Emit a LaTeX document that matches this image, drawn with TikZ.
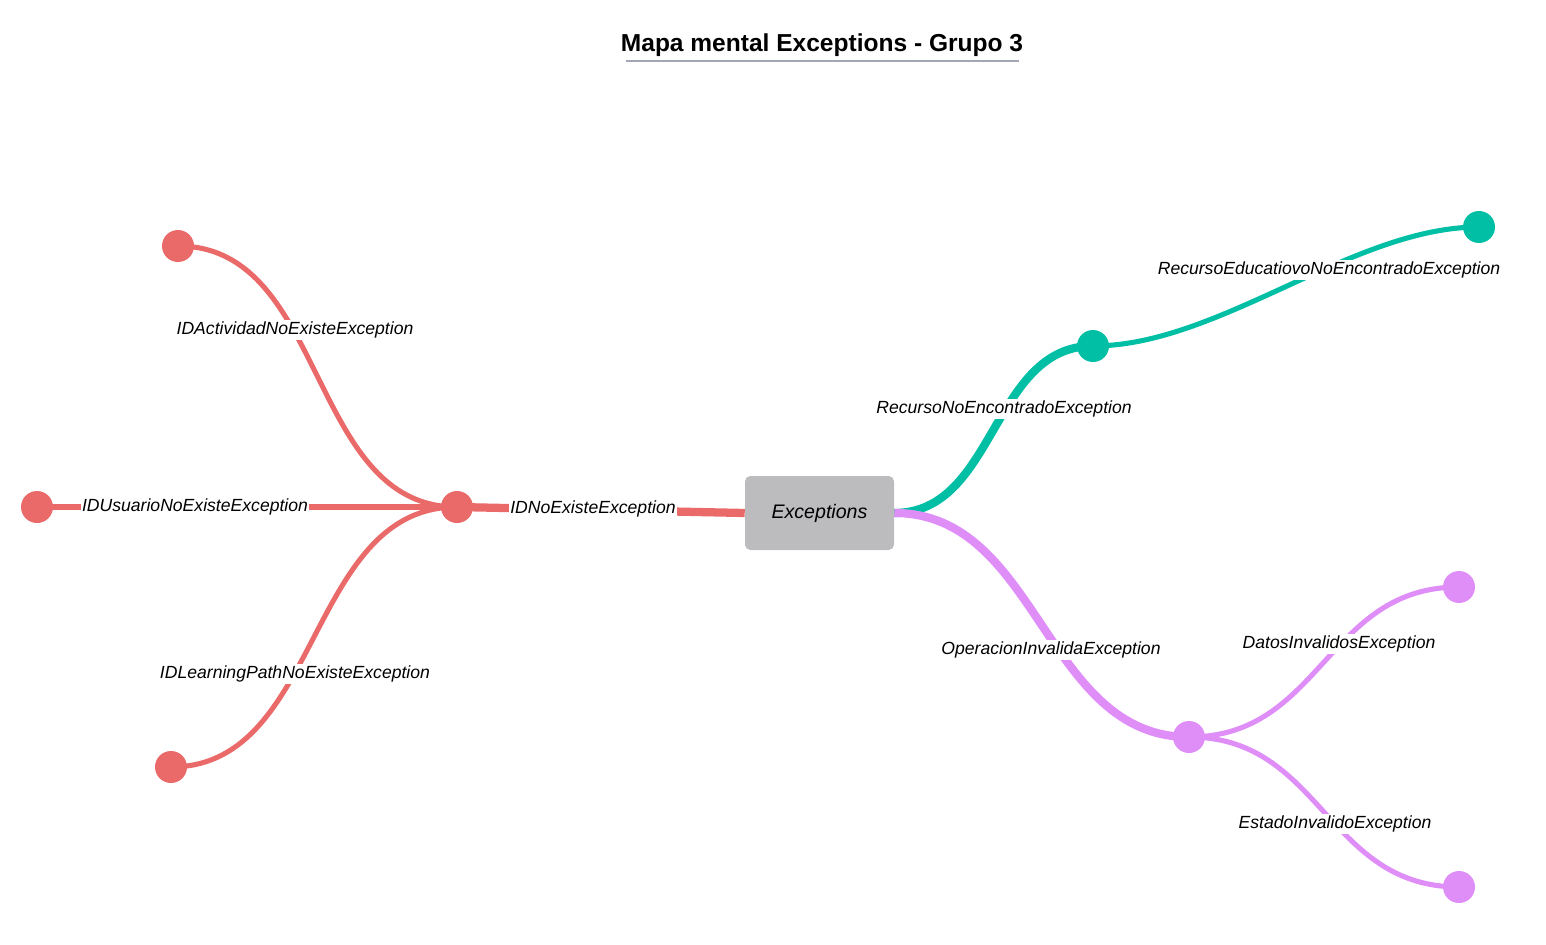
\documentclass[tikz,border=0pt]{standalone}
\usepackage{fontspec}
\setmainfont{Liberation Sans}
\definecolor{rosso}{HTML}{EA6A6A}
\definecolor{verde}{HTML}{00BFA5}
\definecolor{viola}{HTML}{DF8EF8}
\definecolor{grigio}{HTML}{BCBCBE}
\definecolor{riga}{HTML}{A3A6B4}
\begin{document}
\begin{tikzpicture}[x=0.75pt,y=-0.75pt,
    punto/.style={circle,fill=#1,minimum size=24pt,inner sep=0pt},
    tronco/.style={line width=6.2pt,draw=#1},
    ramo/.style={line width=3.8pt,draw=#1},
    etichetta/.style={fill=white,inner sep=1pt,font=\itshape\fontsize{13.2}{15}\selectfont}]
  \useasboundingbox (0,0) rectangle (1546,945);
  %titolo
  \node[font=\bfseries\fontsize{18.4}{21}\selectfont] (titolo) at (822,45) {Mapa mental Exceptions - Grupo 3};
  \draw[riga,line width=1.5pt] (626,61) -- (1019,61);
  %nodi
  \node[fill=grigio,rounded corners=4pt,minimum width=111.75pt,minimum height=55.5pt,
    font=\itshape\fontsize{14.7}{17}\selectfont] (radice) at (819.5,513) {Exceptions};
  \node[punto=rosso] (idnoexiste) at (457,507) {};
  \node[punto=rosso] (idactividad) at (178,246) {};
  \node[punto=rosso] (idusuario) at (37,507) {};
  \node[punto=rosso] (idlearning) at (171,767) {};
  \node[punto=verde] (recurso) at (1093,346) {};
  \node[punto=verde] (recursoedu) at (1479,227) {};
  \node[punto=viola] (operacion) at (1189,737) {};
  \node[punto=viola] (datos) at (1459,587) {};
  \node[punto=viola] (estado) at (1459,887) {};
  %rami
  \draw[tronco=rosso] (radice.west) -- (idnoexiste.center);
  \draw[ramo=rosso] (idnoexiste.center) to[out=180,in=0] (idactividad.center);
  \draw[ramo=rosso] (idnoexiste.center) -- (idusuario.center);
  \draw[ramo=rosso] (idnoexiste.center) to[out=180,in=0] (idlearning.center);
  \draw[tronco=verde] (radice.east) to[out=0,in=180] (recurso.center);
  \draw[ramo=verde] (recurso.center) to[out=0,in=180,looseness=0.8] (recursoedu.center);
  \draw[tronco=viola] (radice.east) to[out=0,in=180] (operacion.center);
  \draw[ramo=viola] (operacion.center) to[out=0,in=180,looseness=1.1] (datos.center);
  \draw[ramo=viola] (operacion.center) to[out=0,in=180,looseness=1.1] (estado.center);
  %etichette
  \node[etichetta] (lidnoexiste) at (593,509) {IDNoExisteException};
  \node[etichetta] (lidactividad) at (295,330) {IDActividadNoExisteException};
  \node[etichetta] (lidusuario) at (195,507) {IDUsuarioNoExisteException};
  \node[etichetta] (lidlearning) at (295,674) {IDLearningPathNoExisteException};
  \node[etichetta] (lrecurso) at (1004,409) {RecursoNoEncontradoException};
  \node[etichetta] (lrecursoedu) at (1329,270) {RecursoEducatiovoNoEncontradoException};
  \node[etichetta] (loperacion) at (1051,650) {OperacionInvalidaException};
  \node[etichetta] (ldatos) at (1339,644) {DatosInvalidosException};
  \node[etichetta] (lestado) at (1335,824) {EstadoInvalidoException};
\end{tikzpicture}
\end{document}
